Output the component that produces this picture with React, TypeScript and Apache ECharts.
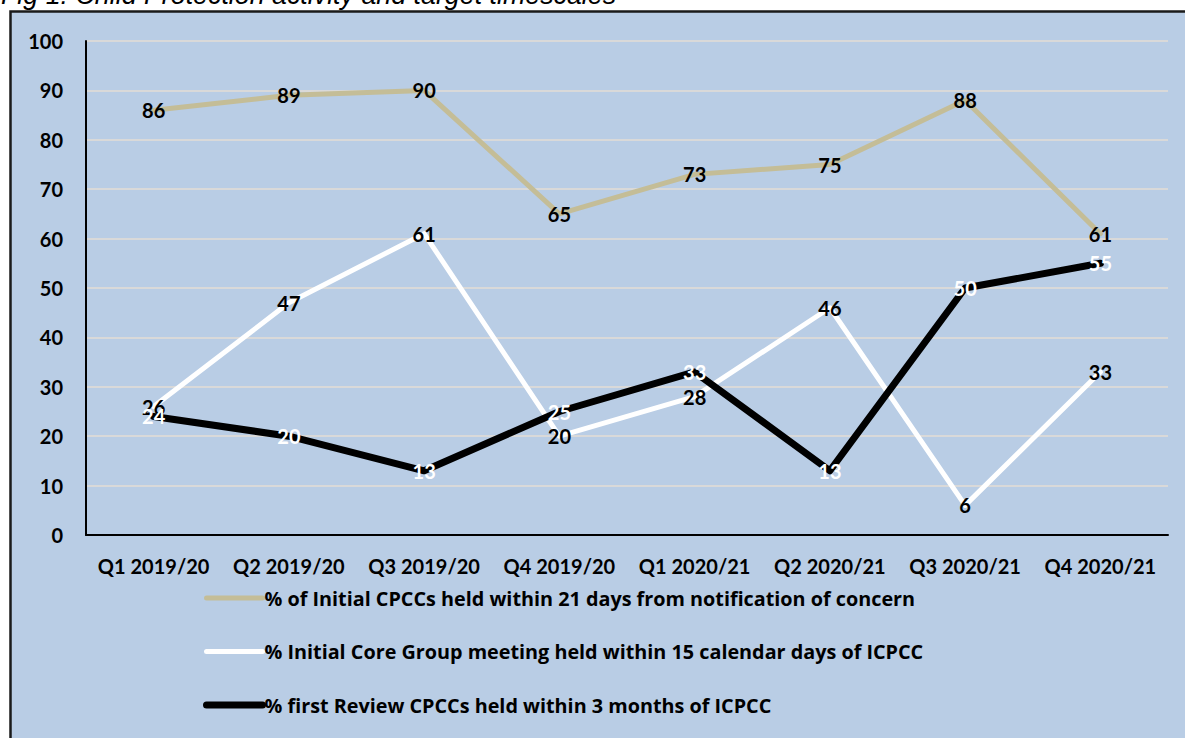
import React, { useEffect, useRef } from "react";
import * as echarts from "echarts";

const title = "Fig 1: Child Protection activity and target timescales";
const categories = [
  "Q1 2019/20",
  "Q2 2019/20",
  "Q3 2019/20",
  "Q4 2019/20",
  "Q1 2020/21",
  "Q2 2020/21",
  "Q3 2020/21",
  "Q4 2020/21",
];
const seriesNames = [
  "% of Initial CPCCs held within 21 days from notification of concern",
  "% Initial Core Group meeting held within 15 calendar days of ICPCC",
  "% first Review CPCCs held within 3 months of ICPCC",
];
const initialCPCC = [86, 89, 90, 65, 73, 75, 88, 61];
const coreGroup = [26, 47, 61, 20, 28, 46, 6, 33];
const reviewCPCC = [24, 20, 13, 25, 33, 13, 50, 55];
const yMin = 0;
const yMax = 100;
const yInterval = 10;

const FONT = "Lato, 'Open Sans', sans-serif";
const LEGEND_FONT = "'Open Sans', Lato, sans-serif";

export default function App() {
  const ref = useRef<HTMLDivElement>(null);

  useEffect(() => {
    if (!ref.current) return;
    const chart = echarts.init(ref.current, undefined, { renderer: "svg" });
    const labelBase = {
      show: true,
      position: "inside" as const,
      fontFamily: FONT,
      fontWeight: "bold" as const,
      fontSize: 20,
    };
    const mk = (name: string, data: number[], color: string, width: number, labelColor: string) => ({
      name,
      type: "line" as const,
      data,
      symbol: "circle",
      symbolSize: 2,
      itemStyle: { color },
      lineStyle: { color, width, cap: "round" as const, join: "round" as const },
      label: { ...labelBase, color: labelColor },
      emphasis: { disabled: true },
    });
    chart.setOption({
      animation: false,
      backgroundColor: "#ffffff",
      graphic: [
        {
          type: "rect",
          z: -100,
          silent: true,
          shape: { x: 10.5, y: 11.5, width: 1300, height: 900 },
          style: { fill: "#b9cde5", stroke: "#1a1a1a", lineWidth: 2.5 },
        },
        {
          type: "text",
          z: -50,
          silent: true,
          x: 1,
          y: -4.8,
          style: {
            text: title,
            font: "italic 26.8px 'Liberation Sans', Arial, sans-serif",
            fill: "#000",
            verticalAlign: "middle",
          },
        },
      ],
      grid: { left: 86, right: 17, top: 41, bottom: 203, containLabel: false },
      legend: {
        orient: "vertical",
        left: 203,
        top: 588,
        padding: 0,
        itemWidth: 56,
        itemHeight: 20,
        itemGap: 33.5,
        selectedMode: false,
        itemStyle: { opacity: 0 },
        lineStyle: { width: "inherit", cap: "round" },
        textStyle: {
          fontFamily: LEGEND_FONT,
          fontWeight: "bold",
          fontSize: 19.8,
          color: "#000",
          padding: [0, 0, 0, -3],
        },
        data: seriesNames,
      },
      xAxis: {
        type: "category",
        data: categories,
        boundaryGap: true,
        axisLine: { show: true, lineStyle: { color: "#000", width: 2 } },
        axisTick: { show: false },
        axisLabel: {
          interval: 0,
          margin: 21,
          color: "#000",
          fontFamily: FONT,
          fontWeight: "bold",
          fontSize: 20,
        },
      },
      yAxis: {
        type: "value",
        min: yMin,
        max: yMax,
        interval: yInterval,
        axisLine: { show: true, lineStyle: { color: "#000", width: 2 } },
        axisTick: { show: false },
        splitLine: { show: true, lineStyle: { color: "#d9d9d9", width: 2 } },
        axisLabel: {
          margin: 23,
          color: "#000",
          fontFamily: FONT,
          fontWeight: "bold",
          fontSize: 20,
        },
      },
      series: [
        mk(seriesNames[0], initialCPCC, "#c4bd97", 5, "#000"),
        mk(seriesNames[1], coreGroup, "#ffffff", 5, "#000"),
        mk(seriesNames[2], reviewCPCC, "#000000", 7, "#ffffff"),
      ],
    });
    return () => chart.dispose();
  }, []);

  return (
    <div
      ref={ref}
      style={{ position: "fixed", left: 0, top: 0, width: 1185, height: 738 }}
    />
  );
}
